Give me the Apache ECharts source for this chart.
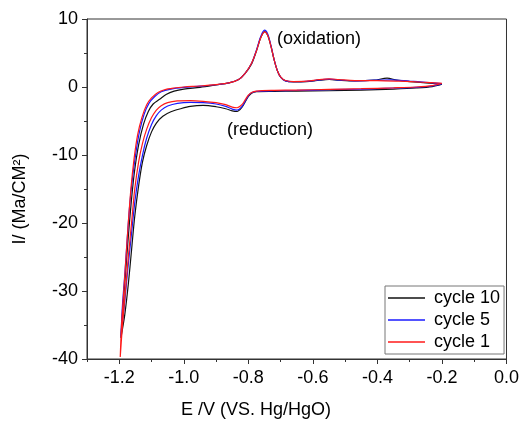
<!DOCTYPE html>
<html>
<head>
<meta charset="utf-8">
<script src="https://cdn.jsdelivr.net/npm/echarts@6/dist/echarts.min.js"></script>
<style>
html,body{margin:0;padding:0;background:#fff;}
#main{width:522px;height:421px;}
</style>
</head>
<body>
<div id="main"></div>
<script>
// E (V) , I (mA/cm2) pairs, lower (cathodic) branch then upper (anodic) branch
var cycle1 = [
    [-0.2,0.55],[-0.23,0.2],[-0.28,0.0],[-0.35,-0.12],[-0.45,-0.25],[-0.55,-0.35],[-0.65,-0.45],[-0.72,-0.5],
    [-0.775,-0.6],[-0.79,-0.8],[-0.8,-1.2],[-0.81,-1.9],[-0.82,-2.6],[-0.835,-3.05],[-0.85,-2.95],[-0.87,-2.6],
    [-0.9,-2.3],[-0.94,-2.1],[-0.98,-2.0],[-1.02,-2.05],[-1.05,-2.3],[-1.07,-2.75],[-1.085,-3.4],[-1.1,-4.5],
    [-1.115,-6.2],[-1.128,-8.3],[-1.14,-11],[-1.152,-15],[-1.162,-20],[-1.172,-25],[-1.181,-30],[-1.19,-35],
    [-1.197,-39.7],
    [-1.193,-35],[-1.186,-30],[-1.179,-25],[-1.172,-20],[-1.164,-15],[-1.154,-10.5],[-1.143,-7],[-1.13,-4.5],
    [-1.115,-2.6],[-1.1,-1.6],[-1.08,-0.8],[-1.06,-0.4],[-1.03,-0.15],[-1.0,0.0],[-0.95,0.15],[-0.9,0.35],
    [-0.86,0.6],[-0.83,1.1],[-0.81,2.0],[-0.79,3.5],[-0.775,5.3],[-0.762,7.2],[-0.75,8.1],[-0.74,7.6],
    [-0.73,6.0],[-0.72,4.0],[-0.71,2.4],[-0.7,1.5],[-0.685,0.95],[-0.66,0.8],[-0.62,0.85],[-0.58,1.1],
    [-0.55,1.2],[-0.52,1.1],[-0.47,0.95],[-0.4,0.95],[-0.33,0.85],[-0.26,0.7],[-0.2,0.55]
];
var cycle5 = [
    [-0.2,0.5],[-0.23,0.15],[-0.28,-0.05],[-0.35,-0.15],[-0.45,-0.3],[-0.55,-0.4],[-0.65,-0.5],[-0.72,-0.55],
    [-0.775,-0.65],[-0.79,-0.85],[-0.8,-1.3],[-0.81,-2.1],[-0.82,-2.9],[-0.835,-3.4],[-0.85,-3.25],[-0.87,-2.85],
    [-0.9,-2.5],[-0.94,-2.3],[-0.98,-2.25],[-1.02,-2.4],[-1.05,-2.8],[-1.07,-3.4],[-1.085,-4.2],[-1.1,-5.5],
    [-1.115,-7.5],[-1.127,-9.8],[-1.14,-13],[-1.152,-17],[-1.163,-22],[-1.174,-27],[-1.184,-32],[-1.195,-36.7],
    [-1.19,-32],[-1.182,-27],[-1.175,-22],[-1.167,-17],[-1.158,-13],[-1.148,-9.5],[-1.137,-6.5],[-1.123,-4],
    [-1.108,-2.4],[-1.09,-1.4],[-1.07,-0.7],[-1.04,-0.3],[-1.0,-0.05],[-0.95,0.12],[-0.9,0.33],[-0.86,0.6],
    [-0.83,1.1],[-0.81,2.0],[-0.79,3.5],[-0.775,5.4],[-0.762,7.4],[-0.75,8.35],[-0.74,7.8],[-0.73,6.1],
    [-0.72,4.0],[-0.71,2.4],[-0.7,1.45],[-0.685,0.9],[-0.66,0.78],[-0.62,0.82],[-0.58,1.05],[-0.55,1.15],
    [-0.52,1.05],[-0.47,0.9],[-0.4,1.0],[-0.36,1.05],[-0.3,0.85],[-0.25,0.7],[-0.2,0.5]
];
var cycle10 = [
    [-0.2,0.4],[-0.23,0.05],[-0.28,-0.15],[-0.35,-0.3],[-0.45,-0.45],[-0.55,-0.55],[-0.65,-0.6],[-0.72,-0.65],
    [-0.775,-0.7],[-0.79,-0.9],[-0.8,-1.4],[-0.81,-2.2],[-0.82,-3.0],[-0.835,-3.6],[-0.85,-3.5],[-0.87,-3.2],
    [-0.9,-2.9],[-0.94,-2.7],[-0.98,-2.85],[-1.01,-3.2],[-1.04,-3.65],[-1.065,-4.3],[-1.085,-5.3],[-1.1,-6.6],
    [-1.115,-8.6],[-1.128,-11],[-1.14,-14.5],[-1.152,-19],[-1.162,-24],[-1.172,-29],[-1.183,-33.5],[-1.195,-36.9],
    [-1.188,-32],[-1.18,-27],[-1.172,-22],[-1.163,-17],[-1.153,-12.5],[-1.14,-8.5],[-1.125,-5.5],[-1.11,-3.6],
    [-1.095,-2.5],[-1.075,-1.8],[-1.055,-1.1],[-1.03,-0.6],[-1.0,-0.3],[-0.95,-0.05],[-0.9,0.3],[-0.86,0.6],
    [-0.83,1.1],[-0.81,2.0],[-0.79,3.4],[-0.775,5.3],[-0.762,7.2],[-0.75,8.15],[-0.74,7.6],[-0.73,6.0],
    [-0.72,4.0],[-0.71,2.4],[-0.7,1.45],[-0.685,0.9],[-0.66,0.75],[-0.62,0.8],[-0.58,1.0],[-0.55,1.1],
    [-0.52,1.0],[-0.47,0.9],[-0.41,1.0],[-0.37,1.3],[-0.34,1.0],[-0.3,0.8],[-0.25,0.6],[-0.2,0.4]
];
var xMajorTicks = [-1.2,-1.0,-0.8,-0.6,-0.4,-0.2,0.0];
var xMinorTicks = [-1.3,-1.1,-0.9,-0.7,-0.5,-0.3,-0.1];
var seriesNames = ['cycle 10','cycle 5','cycle 1'];
var seriesColors = ['#111111','#1a1aff','#ff1a1a'];

var FONT = 'Liberation Sans, Arial, sans-serif';
var axisColor = '#333';

var myChart = echarts.init(document.getElementById('main'));

function makeSeries(name, color, data) {
    return {
        name: name,
        type: 'line',
        symbol: 'none',
        smooth: 0.3,
        data: data,
        lineStyle: {color: color, width: 1.2},
        itemStyle: {color: color}
    };
}

var option = {
    animation: false,
    backgroundColor: '#fff',
    grid: {
        left: 87, right: 14, top: 19, bottom: 62,
        show: true, borderColor: axisColor, borderWidth: 1
    },
    legend: {
        orient: 'vertical',
        left: 385, top: 286,
        padding: [3, 4, 3, 3],
        itemGap: 4,
        icon: 'rect',
        itemWidth: 37,
        itemHeight: 1.5,
        borderColor: '#777',
        borderWidth: 1,
        data: seriesNames,
        textStyle: {fontFamily: FONT, fontSize: 18, color: '#000', padding: [0, 0, 0, 4]}
    },
    xAxis: [{
        type: 'value',
        min: -1.3, max: 0.0,
        axisLine: {show: true, onZero: false, lineStyle: {color: axisColor}},
        axisTick: {show: true, length: 5, customValues: xMajorTicks, lineStyle: {color: axisColor}},
        axisLabel: {
            customValues: xMajorTicks, margin: 10, color: '#000',
            fontFamily: FONT, fontSize: 18,
            formatter: function (v) { return v.toFixed(1); }
        },
        splitLine: {show: false}
    }, {
        // minor ticks only
        type: 'value',
        min: -1.3, max: 0.0,
        position: 'bottom',
        axisLine: {show: false, onZero: false},
        axisTick: {show: true, length: 3, customValues: xMinorTicks, lineStyle: {color: axisColor}},
        axisLabel: {show: false},
        splitLine: {show: false}
    }],
    yAxis: {
        type: 'value',
        min: -40, max: 10, interval: 10,
        axisLine: {show: true, onZero: false, lineStyle: {color: axisColor}},
        axisTick: {show: true, length: 5, lineStyle: {color: axisColor}},
        minorTick: {show: true, splitNumber: 2, length: 3, lineStyle: {color: axisColor}},
        axisLabel: {margin: 9, color: '#000', fontFamily: FONT, fontSize: 18},
        splitLine: {show: false}
    },
    graphic: [
        {type: 'text', left: 277, top: 30, style: {text: '(oxidation)', font: '18px ' + FONT, fill: '#000'}},
        {type: 'text', left: 227, top: 121, style: {text: '(reduction)', font: '18px ' + FONT, fill: '#000'}},
        {type: 'text', x: 256, y: 410, style: {text: 'E /V (VS. Hg/HgO)', font: '18px ' + FONT, fill: '#000', align: 'center', verticalAlign: 'middle'}},
        {type: 'text', x: 20, y: 199, rotation: Math.PI / 2, style: {text: 'I/ (Ma/CM²)', font: '18px ' + FONT, fill: '#000', align: 'center', verticalAlign: 'middle'}}
    ],
    series: [
        makeSeries(seriesNames[0], seriesColors[0], cycle10),
        makeSeries(seriesNames[1], seriesColors[1], cycle5),
        makeSeries(seriesNames[2], seriesColors[2], cycle1)
    ]
};
myChart.setOption(option);
</script>
</body>
</html>
